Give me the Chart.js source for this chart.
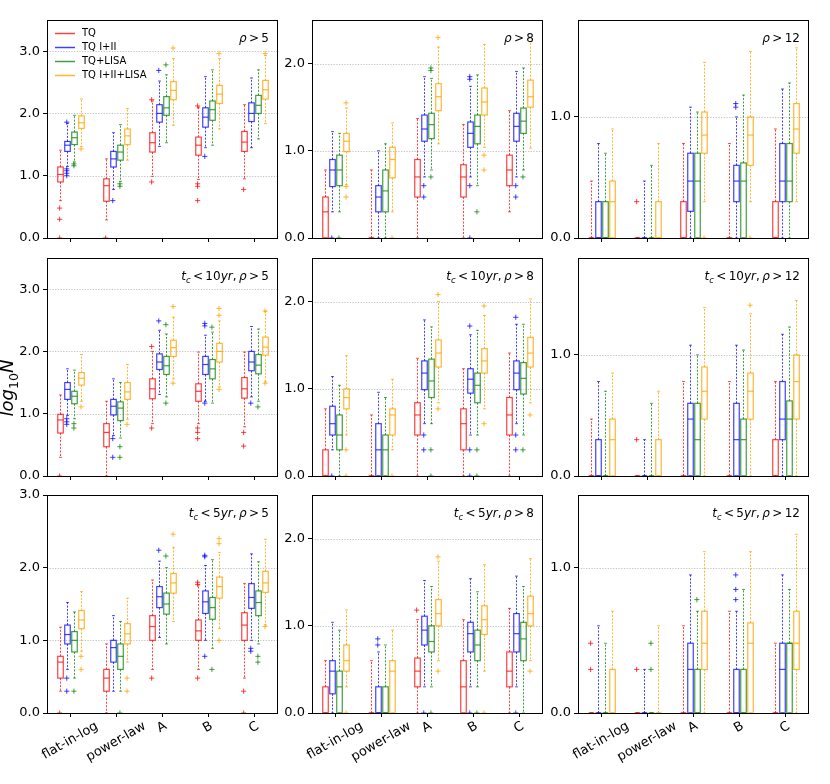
<!DOCTYPE html>
<html>
<head>
<meta charset="utf-8">
<script src="https://cdn.jsdelivr.net/npm/chart.js@4.4.0/dist/chart.umd.min.js"></script>
<style>
  body { margin: 0; background: #fff; }
  #fig { position: relative; width: 830px; height: 784px; }
  #fig canvas { position: absolute; }
</style>
</head>
<body>
<div id="fig"></div>
<script>
// categories and series
const categories = ['flat-in-log', 'power-law', 'A', 'B', 'C'];
const seriesNames = ['TQ', 'TQ I+II', 'TQ+LISA', 'TQ I+II+LISA'];
const seriesColors = ['rgba(255,0,0,0.75)', 'rgba(0,0,255,0.75)', 'rgba(0,128,0,0.75)', 'rgba(255,165,0,0.8)'];

// panel titles (mathtext-like) and y axes
const tcLabels = ['', 't_c < 10yr, ', 't_c < 5yr, '];
const rhoLabels = ['ρ > 5', 'ρ > 8', 'ρ > 12'];
const yMax = [[3.5, 2.5, 1.8], [3.5, 2.5, 1.8], [3.0, 2.5, 1.5]];
const yTicks = [[0, 1, 2, 3], [0, 1, 2], [0, 1]];

// box data: per series, per category -> [lowWhisker, q1, median, q3, highWhisker, [outliers]]
const rho5 = [
  [[0.60,0.90,1.02,1.14,1.41,[0.48,0.30,0]], [0.29,0.59,0.84,0.95,1.27,[0]], [0.99,1.38,1.53,1.69,2.20,[2.22,0.90]], [0.94,1.33,1.49,1.62,2.10,[2.12,0.87,0.83,0.60]], [0.95,1.39,1.54,1.71,2.14,[0.78]]],
  [[1.15,1.39,1.49,1.55,1.84,[1.86,1.11,1.08,1.04,1.00]], [0.78,1.14,1.27,1.39,1.69,[0.60]], [1.47,1.86,2.00,2.14,2.52,[2.69]], [1.45,1.78,1.94,2.09,2.59,[1.31]], [1.45,1.87,2.00,2.17,2.57,[]]],
  [[1.22,1.50,1.61,1.70,1.97,[1.19,1.16]], [0.91,1.25,1.38,1.49,1.82,[0.87,0.83]], [1.53,1.97,2.09,2.27,2.62,[2.78]], [1.49,1.89,2.06,2.20,2.70,[]], [1.59,2.00,2.13,2.29,2.70,[]]],
  [[1.47,1.76,1.85,1.96,2.23,[1.43]], [1.25,1.50,1.64,1.75,2.08,[]], [1.81,2.22,2.37,2.51,2.88,[3.05]], [1.75,2.16,2.31,2.45,2.88,[2.96]], [1.84,2.23,2.38,2.53,2.93,[2.96]]]
];
const rho8 = [
  [[0,0,0.30,0.47,0.78,[]], [0,0,0,0,0.78,[]], [0,0.47,0.70,0.90,1.37,[]], [0,0.47,0.70,0.84,1.30,[]], [0.30,0.60,0.78,0.95,1.46,[]]],
  [[0.30,0.59,0.78,0.90,1.22,[0]], [0,0.30,0.47,0.60,1.00,[]], [0.70,1.11,1.25,1.41,1.85,[0.60,0.47]], [0.70,1.04,1.20,1.33,1.74,[1.85,1.82,0.60,0]], [0.70,1.11,1.28,1.43,1.91,[0.60,0.47]]],
  [[0.30,0.60,0.78,0.95,1.20,[0]], [0,0.30,0.54,0.78,1.08,[]], [0.78,1.14,1.30,1.43,1.83,[1.95,1.92,0.70]], [0.60,1.08,1.28,1.41,1.87,[0.30]], [0.78,1.20,1.34,1.49,1.95,[0.70]]],
  [[0.61,0.99,1.11,1.20,1.49,[1.55,0.59,0.47]], [0.30,0.69,0.90,1.04,1.32,[0]], [1.08,1.46,1.62,1.77,2.19,[2.30]], [1.04,1.41,1.56,1.72,2.22,[0.95,0.78]], [1.03,1.50,1.62,1.81,2.25,[]]]
];
const rho12 = [
  [[0,0,0,0,0.47,[]], [0,0,0,0,0,[0.30]], [0,0,0,0.30,0.78,[]], [0,0,0,0,0.78,[]], [0,0,0,0.30,0.90,[]]],
  [[0,0,0,0.30,0.78,[]], [0,0,0,0,0.47,[]], [0,0.22,0.47,0.70,1.08,[]], [0,0.30,0.47,0.60,1.00,[1.11,1.08]], [0,0.30,0.47,0.78,1.23,[]]],
  [[0,0,0,0.30,0.70,[]], [0,0,0,0,0.60,[]], [0,0,0.47,0.70,1.04,[]], [0,0,0.47,0.62,1.18,[]], [0,0.30,0.47,0.78,1.28,[]]],
  [[0,0,0.30,0.47,0.90,[]], [0,0,0,0.30,0.78,[]], [0.30,0.70,0.85,1.04,1.45,[0]], [0.30,0.60,0.85,1.00,1.54,[0]], [0.30,0.70,0.90,1.11,1.57,[]]]
];
const tc10rho5 = [
  [[0.30,0.69,0.90,0.99,1.30,[0]], [0,0.47,0.70,0.84,1.20,[]], [0.84,1.24,1.40,1.56,2.00,[2.08,0.77]], [0.84,1.20,1.36,1.48,1.99,[0.77,0.70,0.60]], [0.79,1.25,1.40,1.58,1.99,[0.70,0.48]]],
  [[0.97,1.23,1.39,1.50,1.72,[0.92,0.87,0.83]], [0.65,0.98,1.12,1.23,1.56,[0.60,0.30]], [1.31,1.71,1.83,1.96,2.34,[2.49]], [1.20,1.63,1.79,1.92,2.26,[2.45,2.41,1.17]], [1.27,1.69,1.83,2.00,2.40,[1.17]]],
  [[0.92,1.16,1.28,1.36,1.70,[0.84,0.77]], [0.61,0.89,1.09,1.19,1.50,[0.47,0.30]], [1.27,1.63,1.77,1.92,2.28,[2.43,1.17]], [1.17,1.56,1.72,1.87,2.31,[2.39]], [1.20,1.64,1.78,1.95,2.36,[1.11]]],
  [[1.20,1.46,1.57,1.66,1.95,[1.11]], [0.91,1.23,1.35,1.50,1.79,[0.83]], [1.56,1.92,2.06,2.18,2.55,[2.72,1.49]], [1.43,1.83,2.00,2.13,2.49,[2.69,2.58,1.39]], [1.51,1.94,2.07,2.23,2.64,[2.65,1.49]]]
];
const tc10rho8 = [
  [[0,0,0,0.30,0.77,[]], [0,0,0,0,0.70,[]], [0,0.47,0.70,0.84,1.35,[]], [0,0.30,0.60,0.77,1.23,[]], [0,0.47,0.70,0.90,1.41,[]]],
  [[0.30,0.47,0.60,0.80,1.14,[0]], [0,0,0.30,0.60,0.96,[]], [0.60,0.99,1.18,1.32,1.79,[0.47,0.30]], [0.47,0.95,1.11,1.23,1.62,[1.72,0.30,0]], [0.60,0.99,1.18,1.32,1.74,[1.82,0.47,0.30]]],
  [[0,0.30,0.47,0.70,1.04,[]], [0,0,0.30,0.47,0.90,[]], [0.60,0.90,1.09,1.34,1.71,[0.30,0]], [0.47,0.84,1.04,1.18,1.67,[0.30,0]], [0.47,0.94,1.12,1.30,1.74,[0.30]]],
  [[0.47,0.77,0.90,1.00,1.38,[0.30,0]], [0.30,0.47,0.70,0.77,1.11,[0]], [0.84,1.25,1.41,1.56,2.00,[2.08,0.77]], [0.77,1.18,1.32,1.46,1.84,[1.95,0.60]], [0.84,1.25,1.41,1.59,2.03,[0.70]]]
];
const tc10rho12 = [
  [[0,0,0,0,0.47,[]], [0,0,0,0,0,[0.30]], [0,0,0,0,0.78,[]], [0,0,0,0,0.78,[]], [0,0,0,0.30,0.78,[]]],
  [[0,0,0,0.30,0.78,[]], [0,0,0,0,0.30,[]], [0,0,0.47,0.60,1.08,[]], [0,0,0.30,0.60,1.08,[]], [0,0.30,0.47,0.78,1.17,[]]],
  [[0,0,0,0,0.70,[]], [0,0,0,0,0.60,[]], [0,0,0.30,0.60,1.00,[]], [0,0,0.30,0.47,1.04,[]], [0,0,0.47,0.62,1.23,[]]],
  [[0,0,0.30,0.47,0.85,[]], [0,0,0,0.30,0.70,[]], [0,0.47,0.70,0.90,1.39,[]], [0,0.47,0.70,0.85,1.34,[1.41]], [0,0.47,0.78,1.00,1.45,[]]]
];
const tc5rho5 = [
  [[0.30,0.48,0.70,0.78,1.18,[0]], [0,0.30,0.48,0.60,0.95,[]], [0.60,1.00,1.19,1.34,1.83,[0.48]], [0.60,1.00,1.13,1.28,1.76,[1.80,1.77,0.48]], [0.48,1.00,1.21,1.38,1.78,[0.30,0]]],
  [[0.60,0.95,1.08,1.21,1.52,[0.48,0.30]], [0.30,0.70,0.90,1.00,1.34,[]], [1.04,1.45,1.60,1.74,2.09,[2.24]], [1.00,1.37,1.53,1.68,2.03,[2.17,2.15,0.78]], [1.00,1.44,1.59,1.78,2.19,[0.89,0.85]]],
  [[0.48,0.84,1.00,1.12,1.39,[0.30]], [0.30,0.60,0.78,0.95,1.26,[0]], [0.95,1.36,1.50,1.65,2.00,[2.16]], [0.89,1.29,1.45,1.59,2.11,[0.60]], [0.95,1.34,1.52,1.68,2.08,[0.78,0.70]]],
  [[0.85,1.16,1.28,1.41,1.67,[0.78,0.60]], [0.70,0.95,1.09,1.23,1.58,[0.48,0.30]], [1.26,1.65,1.79,1.92,2.28,[2.46]], [1.16,1.58,1.74,1.87,2.21,[2.40,2.33,1.00]], [1.21,1.66,1.79,1.95,2.39,[1.19]]]
];
const tc5rho8 = [
  [[0,0,0,0.30,0.60,[]], [0,0,0,0,0.60,[]], [0,0.30,0.48,0.63,1.07,[1.18]], [0,0,0.30,0.60,1.07,[]], [0,0.30,0.48,0.70,1.20,[]]],
  [[0,0.22,0.48,0.60,1.04,[]], [0,0,0,0.30,0.70,[0.85,0.78]], [0.30,0.78,0.95,1.11,1.52,[0]], [0.30,0.70,0.91,1.04,1.54,[0]], [0.30,0.70,0.91,1.14,1.57,[0]]],
  [[0,0,0.30,0.48,0.95,[]], [0,0,0,0.30,0.78,[]], [0.30,0.70,0.82,1.00,1.45,[0]], [0.30,0.60,0.78,0.95,1.39,[0]], [0,0.60,0.85,1.04,1.45,[]]],
  [[0.30,0.48,0.60,0.78,1.18,[0]], [0,0,0.48,0.60,0.95,[]], [0.60,1.00,1.14,1.30,1.74,[1.79,0.48]], [0.48,0.90,1.07,1.23,1.70,[0]], [0.60,1.00,1.14,1.34,1.77,[0.48]]]
];
const tc5rho12 = [
  [[0,0,0,0,0,[0.48,0.30]], [0,0,0,0,0,[0.30]], [0,0,0,0,0.60,[]], [0,0,0,0,0.70,[]], [0,0,0,0,0.48,[]]],
  [[0,0,0,0,0.60,[]], [0,0,0,0,0.30,[]], [0,0,0.30,0.48,0.95,[]], [0,0,0,0.30,0.70,[0.95,0.85,0.78]], [0,0,0.30,0.48,0.95,[]]],
  [[0,0,0,0,0.48,[]], [0,0,0,0,0,[0.48,0.30]], [0,0,0,0.30,0.70,[0.78]], [0,0,0,0.30,0.85,[]], [0,0,0.48,0.48,0.85,[]]],
  [[0,0,0,0.30,0.70,[]], [0,0,0,0,0.60,[]], [0,0.30,0.48,0.70,1.11,[]], [0,0,0.48,0.62,1.11,[]], [0,0.30,0.48,0.70,1.23,[]]]
];
const panels = [[rho5, rho8, rho12], [tc10rho5, tc10rho8, tc10rho12], [tc5rho5, tc5rho8, tc5rho12]];

// layout of the 3x3 grid (pixels)
const panelLeft = [47, 312, 578];
const panelTop = [20, 258, 495];
const panelW = 230, panelH = 218;
const boxOffsets = [-0.225, -0.07, 0.085, 0.24];
const boxWidth = 0.12;
const FONT = "'DejaVu Sans'";

Chart.defaults.font.family = FONT;

function mathTokens(str) {
  const out = [];
  for (let i = 0; i < str.length; i++) {
    const ch = str[i];
    if (ch === '_') {
      let t = str[i + 1];
      if (t === '{') { const j = str.indexOf('}', i); t = str.slice(i + 2, j); i = j; } else i++;
      out.push({ t, it: /[a-z]/i.test(t), sub: true });
    } else if (ch === ' ') out.push({ gap: true });
    else out.push({ t: ch, it: /[a-zA-Zρ]/.test(ch) });
  }
  return out;
}

function drawMath(ctx, str, x, y, size, align) {
  const toks = mathTokens(str);
  const fontOf = tk => (tk.it ? 'italic ' : '') + (tk.sub ? size * 0.7 : size) + 'px ' + FONT;
  let total = 0;
  toks.forEach(tk => {
    if (tk.gap) { tk.w = size * 0.2; }
    else { ctx.font = fontOf(tk); tk.w = ctx.measureText(tk.t).width; }
    total += tk.w;
  });
  let cx = align === 'right' ? x - total : align === 'center' ? x - total / 2 : x;
  ctx.fillStyle = '#000';
  ctx.textBaseline = 'alphabetic';
  ctx.textAlign = 'left';
  toks.forEach(tk => {
    if (!tk.gap) {
      ctx.font = fontOf(tk);
      ctx.fillText(tk.t, cx, y + (tk.sub ? size * 0.25 : 0));
    }
    cx += tk.w;
  });
}

function seg(ctx, x1, y1, x2, y2) {
  ctx.beginPath(); ctx.moveTo(x1, y1); ctx.lineTo(x2, y2); ctx.stroke();
}

const boxPlot = {
  id: 'boxPlot',
  beforeDatasetsDraw(chart) {
    const { ctx, chartArea: a, scales: { x, y } } = chart;
    ctx.save();
    // dotted horizontal grid
    ctx.strokeStyle = '#b0b0b0';
    ctx.lineWidth = 0.8;
    ctx.setLineDash([1.2, 1.5]);
    y.ticks.forEach(t => {
      if (t.value > 0) {
        const py = Math.round(y.getPixelForValue(t.value)) + 0.5;
        seg(ctx, a.left, py, a.right, py);
      }
    });
    const hw = (x.getPixelForValue(1 + boxWidth / 2) - x.getPixelForValue(1));
    chart.data.datasets.forEach((ds, s) => {
      ctx.strokeStyle = ds.borderColor;
      ds.boxes.forEach((b, c) => {
        const [lo, q1, med, q3, hi] = b;
        const cx = Math.round(x.getPixelForValue(c + 1 + boxOffsets[s])) + 0.5;
        const yLo = y.getPixelForValue(lo), yQ1 = y.getPixelForValue(q1);
        const yMed = y.getPixelForValue(med), yQ3 = y.getPixelForValue(q3);
        const yHi = y.getPixelForValue(hi);
        // whiskers
        ctx.lineWidth = 1;
        ctx.setLineDash([2, 1.5]);
        if (hi > q3) seg(ctx, cx, yQ3, cx, yHi);
        if (q1 > lo) seg(ctx, cx, yQ1, cx, yLo);
        // caps
        ctx.setLineDash([]);
        seg(ctx, cx - hw / 2, yHi, cx + hw / 2, yHi);
        seg(ctx, cx - hw / 2, yLo, cx + hw / 2, yLo);
        // box and median
        ctx.lineWidth = 1.2;
        ctx.strokeRect(cx - hw, yQ3, hw * 2, yQ1 - yQ3);
        seg(ctx, cx - hw, yMed, cx + hw, yMed);
      });
    });
    ctx.restore();
  },
  afterDraw(chart, args, opts) {
    const { ctx, chartArea: a, scales: { x } } = chart;
    const { row, col, left, top } = opts;
    ctx.save();
    // frame
    ctx.strokeStyle = '#000';
    ctx.lineWidth = 1;
    ctx.strokeRect(Math.round(a.left) + 0.5, Math.round(a.top) + 0.5, Math.round(a.right - a.left), Math.round(a.bottom - a.top));
    // panel title
    drawMath(ctx, tcLabels[row] + rhoLabels[col], a.right - 8, a.top + 22, 12, 'right');
    // legend in first panel
    if (row === 0 && col === 0) {
      ctx.font = '10px ' + FONT;
      ctx.textBaseline = 'middle';
      seriesNames.forEach((name, i) => {
        const ly = a.top + 13.5 + i * 14;
        ctx.strokeStyle = seriesColors[i];
        ctx.lineWidth = 1.5;
        seg(ctx, a.left + 8, ly, a.left + 28, ly);
        ctx.fillStyle = '#000';
        ctx.fillText(name, a.left + 35, ly);
      });
    }
    // rotated category labels on bottom row
    if (row === 2) {
      ctx.font = '13px ' + FONT;
      ctx.fillStyle = '#000';
      ctx.textAlign = 'center';
      ctx.textBaseline = 'middle';
      categories.forEach((cat, i) => {
        const w = ctx.measureText(cat).width;
        const px = x.getPixelForValue(i + 1);
        const py = a.bottom + 7 + (w * 0.5 + 10.4) / 2;
        ctx.save();
        ctx.translate(px, py);
        ctx.rotate(-Math.PI / 6);
        ctx.fillText(cat, 0, 0);
        ctx.restore();
      });
    }
    // y label
    if (row === 1 && col === 0) {
      ctx.save();
      ctx.translate(13 - left, 388 - top);
      ctx.rotate(-Math.PI / 2);
      drawMath(ctx, 'log_{10}N', 0, 0, 18, 'center');
      ctx.restore();
    }
    ctx.restore();
  }
};

const fig = document.getElementById('fig');
const T = 14, R = 10, XH = 12;

panels.forEach((rowPanels, row) => {
  rowPanels.forEach((panel, col) => {
    const yW = col === 0 ? 47 : 45;
    const left = panelLeft[col] - yW;
    const top = panelTop[row] - T;
    const W = yW + panelW + R;
    const H = T + panelH + XH + (row === 2 ? 60 : 0);
    const canvas = document.createElement('canvas');
    canvas.width = W; canvas.height = H;
    canvas.style.left = left + 'px';
    canvas.style.top = top + 'px';
    canvas.style.width = W + 'px';
    canvas.style.height = H + 'px';
    fig.appendChild(canvas);

    const datasets = seriesNames.map((name, s) => ({
      label: name,
      boxes: panel[s],
      data: panel[s].flatMap((b, c) => b[5].map(v => ({ x: c + 1 + boxOffsets[s], y: v }))),
      borderColor: seriesColors[s],
      backgroundColor: seriesColors[s],
      pointStyle: 'cross',
      pointRadius: 2.6,
      pointBorderWidth: 1,
      showLine: false
    }));

    new Chart(canvas.getContext('2d'), {
      type: 'scatter',
      data: { datasets },
      options: {
        responsive: false,
        animation: false,
        devicePixelRatio: 1,
        events: [],
        layout: { padding: { left: 0, top: T, right: R, bottom: row === 2 ? 60 : 0 } },
        plugins: {
          legend: { display: false },
          tooltip: { enabled: false },
          boxPlot: { row, col, left, top }
        },
        scales: {
          x: {
            type: 'linear',
            min: 0.5,
            max: 5.5,
            afterBuildTicks: s => { s.ticks = categories.map((_, i) => ({ value: i + 1 })); },
            afterFit: s => { s.height = XH; },
            ticks: { display: false },
            border: { display: false },
            grid: { drawOnChartArea: false, drawTicks: true, tickLength: 4, tickColor: '#000', tickWidth: 1 }
          },
          y: {
            min: 0,
            max: yMax[row][col],
            afterBuildTicks: s => { s.ticks = yTicks[col].map(v => ({ value: v })); },
            afterFit: s => { s.width = yW; },
            ticks: { callback: v => v.toFixed(1), color: '#000', font: { size: 13 }, padding: 3 },
            border: { display: false },
            grid: { drawOnChartArea: false, drawTicks: true, tickLength: 4, tickColor: '#000', tickWidth: 1 }
          }
        }
      },
      plugins: [boxPlot]
    });
  });
});
</script>
</body>
</html>
